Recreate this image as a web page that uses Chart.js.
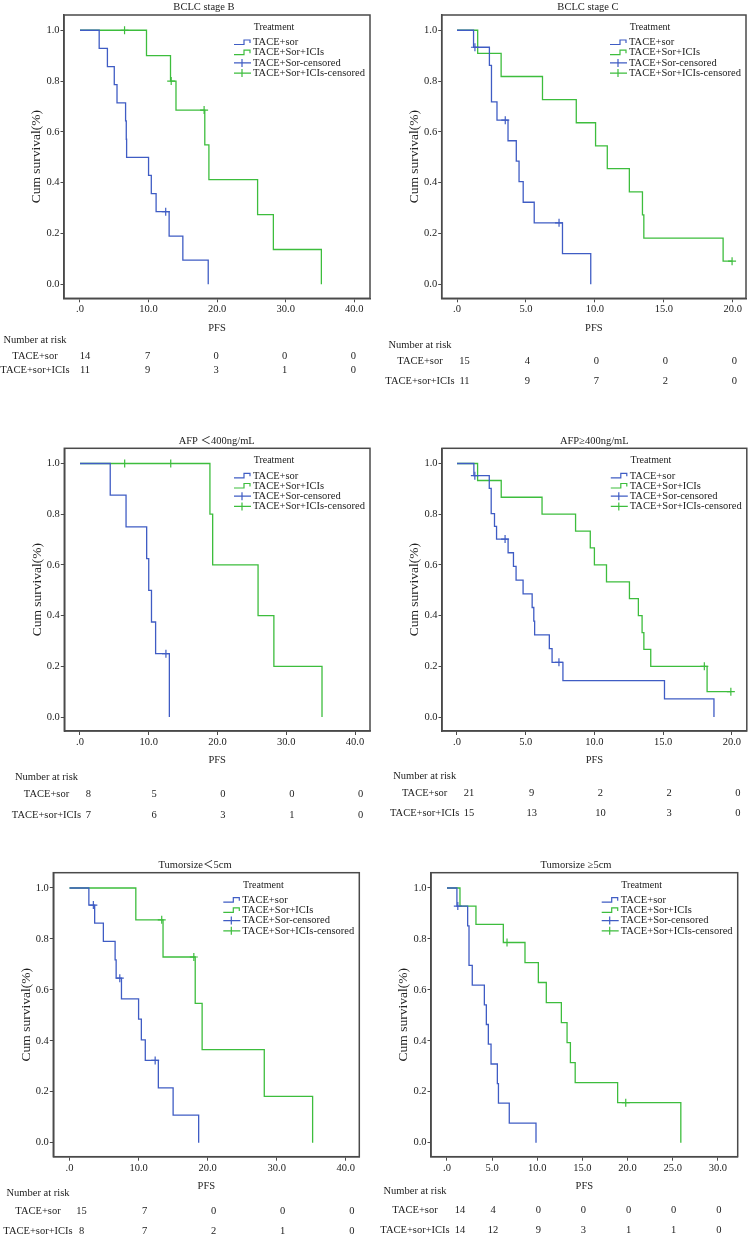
<!DOCTYPE html>
<html>
<head>
<meta charset="utf-8">
<title>PFS by subgroup</title>
<script src="https://cdn.jsdelivr.net/npm/chart.js@4.4.1/dist/chart.umd.min.js"></script>
<style>
  body { margin: 0; background: #fff; }
  #page { position: relative; width: 752px; height: 1239px; overflow: hidden; background: #fff; }
  #page canvas { position: absolute; }
</style>
</head>
<body>
<div id="page"></div>
<script>
// ---- values (time in months, cumulative survival) ----
const panelTitles = ['BCLC stage B', 'BCLC stage C', 'AFP \uFF1C400ng/mL', 'AFP\u2265400ng/mL', 'Tumorsize\uFF1C5cm', 'Tumorsize \u22655cm'];
const legendLabels = ['TACE+sor', 'TACE+Sor+ICIs', 'TACE+Sor-censored', 'TACE+Sor+ICIs-censored'];
const groupNames = ['TACE+sor', 'TACE+sor+ICIs'];

// BCLC stage B
const stageB_sor_time = [0, 2.8, 4.0, 5.0, 5.4, 6.65, 6.75, 6.8, 10.0, 10.4, 11.1, 13.0, 15.0, 18.7];
const stageB_sor_surv = [1, 0.929, 0.857, 0.786, 0.714, 0.643, 0.571, 0.5, 0.429, 0.357, 0.286, 0.19, 0.095, 0];
const stageB_sor_cens = [12.5];
const stageB_ici_time = [0, 9.7, 13.2, 14.0, 18.2, 18.8, 25.9, 28.2, 35.2];
const stageB_ici_surv = [1, 0.9, 0.8, 0.686, 0.549, 0.412, 0.274, 0.137, 0];
const stageB_ici_cens = [6.5, 13.3, 18.1];
const stageB_ticks = [0, 10, 20, 30, 40];
const stageB_risk_sor = [14, 7, 0, 0, 0];
const stageB_risk_ici = [11, 9, 3, 1, 0];

// BCLC stage C
const stageC_sor_time = [0, 1.2, 2.35, 2.5, 2.9, 3.7, 4.3, 4.5, 4.8, 5.6, 7.65, 9.7];
const stageC_sor_surv = [1, 0.933, 0.862, 0.718, 0.646, 0.565, 0.485, 0.404, 0.323, 0.242, 0.121, 0];
const stageC_sor_cens = [1.3, 3.5, 7.4];
const stageC_ici_time = [0, 1.5, 3.2, 6.2, 8.65, 10.05, 10.9, 12.5, 13.45, 13.55, 19.3, 19.95];
const stageC_ici_surv = [1, 0.909, 0.818, 0.727, 0.636, 0.545, 0.455, 0.364, 0.273, 0.182, 0.091, 0.091];
const stageC_ici_cens = [19.95];
const stageC_ticks = [0, 5, 10, 15, 20];
const stageC_risk_sor = [15, 4, 0, 0, 0];
const stageC_risk_ici = [11, 9, 7, 2, 0];

// AFP < 400
const afpLow_sor_time = [0, 4.4, 6.7, 9.7, 10.0, 10.4, 11.0, 13.0];
const afpLow_sor_surv = [1, 0.875, 0.75, 0.625, 0.5, 0.375, 0.25, 0];
const afpLow_sor_cens = [12.5];
const afpLow_ici_time = [0, 18.9, 19.3, 25.9, 28.2, 35.2];
const afpLow_ici_surv = [1, 0.8, 0.6, 0.4, 0.2, 0];
const afpLow_ici_cens = [6.5, 13.2];
const afpLow_ticks = [0, 10, 20, 30, 40];
const afpLow_risk_sor = [8, 5, 0, 0, 0];
const afpLow_risk_ici = [7, 6, 3, 1, 0];

// AFP >= 400
const afpHigh_sor_time = [0, 1.23, 2.35, 2.49, 2.73, 2.88, 3.72, 4.11, 4.3, 4.81, 5.47, 5.59, 5.65, 6.72, 6.92, 7.71, 15.1, 18.7];
const afpHigh_sor_surv = [1, 0.952, 0.902, 0.802, 0.752, 0.702, 0.648, 0.594, 0.54, 0.486, 0.432, 0.378, 0.324, 0.27, 0.216, 0.144, 0.072, 0];
const afpHigh_sor_cens = [1.3, 3.5, 7.42];
const afpHigh_ici_time = [0, 1.5, 3.22, 6.19, 8.63, 9.7, 10.0, 10.88, 12.55, 13.2, 13.47, 13.6, 14.1, 18.2, 19.93];
const afpHigh_ici_surv = [1, 0.933, 0.867, 0.8, 0.733, 0.667, 0.6, 0.533, 0.467, 0.4, 0.333, 0.267, 0.2, 0.1, 0.1];
const afpHigh_ici_cens = [18.0, 19.93];
const afpHigh_ticks = [0, 5, 10, 15, 20];
const afpHigh_risk_sor = [21, 9, 2, 2, 0];
const afpHigh_risk_ici = [15, 13, 10, 3, 0];

// Tumour size < 5 cm
const sizeSmall_sor_time = [0, 2.8, 3.64, 4.9, 6.6, 6.75, 7.52, 10.0, 10.4, 10.97, 12.86, 15.0, 18.7];
const sizeSmall_sor_surv = [1, 0.933, 0.862, 0.79, 0.718, 0.646, 0.565, 0.485, 0.404, 0.323, 0.215, 0.108, 0];
const sizeSmall_sor_cens = [3.45, 7.28, 12.4];
const sizeSmall_ici_time = [0, 9.6, 13.54, 18.2, 19.2, 28.2, 35.2];
const sizeSmall_ici_surv = [1, 0.875, 0.729, 0.547, 0.365, 0.182, 0];
const sizeSmall_ici_cens = [13.35, 18.0];
const sizeSmall_ticks = [0, 10, 20, 30, 40];
const sizeSmall_risk_sor = [15, 7, 0, 0, 0];
const sizeSmall_risk_ici = [8, 7, 2, 1, 0];

// Tumour size >= 5 cm
const sizeLarge_sor_time = [0, 1.1, 2.29, 2.44, 2.8, 4.14, 4.36, 4.58, 4.88, 5.58, 5.7, 6.9, 9.86];
const sizeLarge_sor_surv = [1, 0.929, 0.851, 0.696, 0.619, 0.541, 0.464, 0.387, 0.309, 0.232, 0.155, 0.077, 0];
const sizeLarge_sor_cens = [1.2];
const sizeLarge_ici_time = [0, 1.44, 3.21, 6.24, 8.64, 10.12, 11.0, 12.67, 13.3, 13.67, 14.2, 18.9, 25.9];
const sizeLarge_ici_surv = [1, 0.929, 0.857, 0.786, 0.707, 0.629, 0.55, 0.471, 0.393, 0.314, 0.236, 0.157, 0];
const sizeLarge_ici_cens = [6.65, 19.8];
const sizeLarge_ticks = [0, 5, 10, 15, 20, 25, 30];
const sizeLarge_risk_sor = [14, 4, 0, 0, 0, 0, 0];
const sizeLarge_risk_ici = [14, 12, 9, 3, 1, 1, 0];

const yTicks = [0, 0.2, 0.4, 0.6, 0.8, 1.0];

// ---- styling ----
const blue = '#3f5cc4';
const green = '#3dbd3d';
const frameColor = '#4a4a4a';
const textColor = '#222';
const serif = '"Liberation Serif", "Times New Roman", "Noto Sans CJK SC", serif';
const page = document.getElementById('page');

// where each panel sits on the page (plot frame = [left, top, right, bottom])
const panels = [
    { title: panelTitles[0], left: 0, top: 0, height: 430, frame: [64, 15, 370, 298.3], xRange: [-2.33, 42.29],
      titleX: 204, labelX: 35, rowsY: [340, 356, 370.7], dx: -1, firstDx: 6,
      sor: [stageB_sor_time, stageB_sor_surv, stageB_sor_cens], ici: [stageB_ici_time, stageB_ici_surv, stageB_ici_cens],
      ticks: stageB_ticks, risk: [stageB_risk_sor, stageB_risk_ici] },
    { title: panelTitles[1], left: 376, top: 0, height: 430, frame: [441.7, 15, 746, 298.3], xRange: [-1.11, 20.96],
      titleX: 588, labelX: 420, rowsY: [345.7, 361.7, 381], dx: 1.5, firstDx: 6,
      sor: [stageC_sor_time, stageC_sor_surv, stageC_sor_cens], ici: [stageC_ici_time, stageC_ici_surv, stageC_ici_cens],
      ticks: stageC_ticks, risk: [stageC_risk_sor, stageC_risk_ici] },
    { title: panelTitles[2], left: 0, top: 433, height: 420, frame: [64.3, 448.3, 370, 731], xRange: [-2.28, 42.18],
      titleX: 216.7, labelX: 46.5, rowsY: [777.7, 794.3, 815], dx: 5.5, firstDx: 3,
      sor: [afpLow_sor_time, afpLow_sor_surv, afpLow_sor_cens], ici: [afpLow_ici_time, afpLow_ici_surv, afpLow_ici_cens],
      ticks: afpLow_ticks, risk: [afpLow_risk_sor, afpLow_risk_ici] },
    { title: panelTitles[3], left: 376, top: 433, height: 420, frame: [442, 448.3, 747.7, 731], xRange: [-1.09, 21.09],
      titleX: 594.3, labelX: 424.7, rowsY: [776.7, 793.3, 813.3], dx: 6, firstDx: 6,
      sor: [afpHigh_sor_time, afpHigh_sor_surv, afpHigh_sor_cens], ici: [afpHigh_ici_time, afpHigh_ici_surv, afpHigh_ici_cens],
      ticks: afpHigh_ticks, risk: [afpHigh_risk_sor, afpHigh_risk_ici] },
    { title: panelTitles[4], left: 0, top: 858, height: 381, frame: [53.3, 872.7, 359.3, 1156.7], xRange: [-2.35, 41.96],
      titleX: 195, labelX: 38, rowsY: [1193.3, 1211, 1231], dx: 6, firstDx: 6,
      sor: [sizeSmall_sor_time, sizeSmall_sor_surv, sizeSmall_sor_cens], ici: [sizeSmall_ici_time, sizeSmall_ici_surv, sizeSmall_ici_cens],
      ticks: sizeSmall_ticks, risk: [sizeSmall_risk_sor, sizeSmall_risk_ici] },
    { title: panelTitles[5], left: 376, top: 858, height: 381, frame: [431, 872.7, 737.7, 1156.7], xRange: [-1.77, 32.2],
      titleX: 576, labelX: 415, rowsY: [1191.7, 1210, 1230], dx: 1, firstDx: 12,
      sor: [sizeLarge_sor_time, sizeLarge_sor_surv, sizeLarge_sor_cens], ici: [sizeLarge_ici_time, sizeLarge_ici_surv, sizeLarge_ici_cens],
      ticks: sizeLarge_ticks, risk: [sizeLarge_risk_sor, sizeLarge_risk_ici] }
];

function curve(times, surv, label, color) {
    return {
        label: label,
        data: times.map((t, i) => ({ x: t, y: surv[i] })),
        stepped: true,
        borderColor: color,
        borderWidth: 1.3,
        pointRadius: 0,
        fill: false
    };
}

// censor marks sit on the step curve at their time
function survivalAt(times, surv, t) {
    let s = surv[0];
    times.forEach((tt, i) => { if (tt <= t) s = surv[i]; });
    return s;
}

function censorMarks(cens, times, surv, label, color) {
    return {
        label: label,
        data: cens.map(t => ({ x: t, y: survivalAt(times, surv, t) })),
        showLine: false,
        pointStyle: 'cross',
        pointRadius: 4,
        pointBorderWidth: 1.2,
        pointBorderColor: color,
        borderColor: color,
        backgroundColor: color
    };
}

// frame, title, in-plot legend and number-at-risk table
const kmExtras = {
    id: 'kmExtras',
    afterDraw(chart, args, opts) {
        const ctx = chart.ctx;
        const area = chart.chartArea;
        const xScale = chart.scales.x;
        ctx.save();

        ctx.strokeStyle = frameColor;
        ctx.lineWidth = 1.5;
        ctx.strokeRect(area.left, area.top, area.right - area.left, area.bottom - area.top);

        ctx.fillStyle = textColor;
        ctx.textBaseline = 'middle';
        ctx.textAlign = 'center';
        ctx.font = '10.5px ' + serif;
        ctx.fillText(opts.title, opts.titleX, area.top - 7.3);

        // legend
        const iconX = area.right - 136;
        ctx.font = '10px ' + serif;
        ctx.fillText('Treatment', iconX + 40, area.top + 12.5);
        ctx.textAlign = 'left';
        ctx.font = '10.5px ' + serif;
        const colors = [blue, green, blue, green];
        legendLabels.forEach((lab, i) => {
            const y = area.top + 27.5 + i * 10.2;
            ctx.strokeStyle = colors[i];
            ctx.lineWidth = 1.2;
            ctx.beginPath();
            if (i < 2) {
                ctx.moveTo(iconX, y + 2);
                ctx.lineTo(iconX + 10, y + 2);
                ctx.lineTo(iconX + 10, y - 2.5);
                ctx.lineTo(iconX + 16, y - 2.5);
                ctx.lineTo(iconX + 16, y + 0.5);
            } else {
                ctx.moveTo(iconX, y);
                ctx.lineTo(iconX + 17, y);
                ctx.moveTo(iconX + 8, y - 4);
                ctx.lineTo(iconX + 8, y + 4);
            }
            ctx.stroke();
            ctx.fillStyle = textColor;
            ctx.fillText(lab, iconX + 19, y);
        });

        // number at risk
        ctx.textAlign = 'center';
        ctx.font = '10.5px ' + serif;
        ctx.fillText('Number at risk', opts.labelX, opts.rowsY[0]);
        groupNames.forEach((name, g) => {
            const y = opts.rowsY[g + 1];
            ctx.fillText(name, opts.labelX, y);
            opts.risk[g].forEach((n, i) => {
                const px = xScale.getPixelForValue(opts.ticks[i]) + opts.dx + (i === 0 ? opts.firstDx : 0);
                ctx.fillText(String(n), px, y);
            });
        });
        ctx.restore();
    }
};

function buildPanel(p) {
    const canvas = document.createElement('canvas');
    canvas.width = 376;
    canvas.height = p.height;
    canvas.style.left = p.left + 'px';
    canvas.style.top = p.top + 'px';
    page.appendChild(canvas);

    const [fl, ft, fr, fb] = p.frame;
    const yAxisW = fl - p.left;
    const xAxisH = 40;
    const tickFont = { family: serif, size: 10.5 };

    new Chart(canvas, {
        type: 'line',
        data: {
            datasets: [
                curve(p.sor[0], p.sor[1], legendLabels[0], blue),
                curve(p.ici[0], p.ici[1], legendLabels[1], green),
                censorMarks(p.sor[2], p.sor[0], p.sor[1], legendLabels[2], blue),
                censorMarks(p.ici[2], p.ici[0], p.ici[1], legendLabels[3], green)
            ]
        },
        options: {
            responsive: false,
            animation: false,
            events: [],
            layout: {
                padding: {
                    left: 0,
                    right: p.left + 376 - fr,
                    top: ft - p.top,
                    bottom: p.top + p.height - fb - xAxisH
                }
            },
            scales: {
                x: {
                    type: 'linear',
                    min: p.xRange[0],
                    max: p.xRange[1],
                    afterBuildTicks: s => { s.ticks = p.ticks.map(v => ({ value: v })); },
                    afterFit: s => { s.height = xAxisH; },
                    ticks: {
                        callback: v => v === 0 ? '.0' : v.toFixed(1),
                        font: tickFont, color: textColor, padding: 1,
                        autoSkip: false, maxRotation: 0
                    },
                    grid: { drawOnChartArea: false, drawTicks: true, tickLength: 4, color: frameColor },
                    border: { display: true, color: frameColor, width: 1.5 },
                    title: { display: true, text: 'PFS', font: tickFont, color: textColor, padding: { top: 0, bottom: 4 } }
                },
                y: {
                    type: 'linear',
                    min: -0.055,
                    max: 1.06,
                    afterBuildTicks: s => { s.ticks = yTicks.map(v => ({ value: v })); },
                    afterFit: s => { s.width = yAxisW; },
                    ticks: {
                        callback: v => v.toFixed(1),
                        font: tickFont, color: textColor, padding: 1
                    },
                    grid: { drawOnChartArea: false, drawTicks: true, tickLength: 3.5, color: frameColor },
                    border: { display: true, color: frameColor, width: 1.5 },
                    title: {
                        display: true, text: 'Cum survival(%)',
                        font: { family: serif, size: 13.5 }, color: textColor,
                        padding: { top: yAxisW - 27.3 - 8.1, bottom: 0 }
                    }
                }
            },
            plugins: {
                legend: { display: false },
                tooltip: { enabled: false },
                title: { display: false },
                kmExtras: {
                    title: p.title,
                    titleX: p.titleX - p.left,
                    labelX: p.labelX - p.left,
                    rowsY: p.rowsY.map(v => v - p.top),
                    dx: p.dx,
                    firstDx: p.firstDx,
                    ticks: p.ticks,
                    risk: p.risk
                }
            }
        },
        plugins: [kmExtras]
    });
}

panels.forEach(buildPanel);
</script>
</body>
</html>
